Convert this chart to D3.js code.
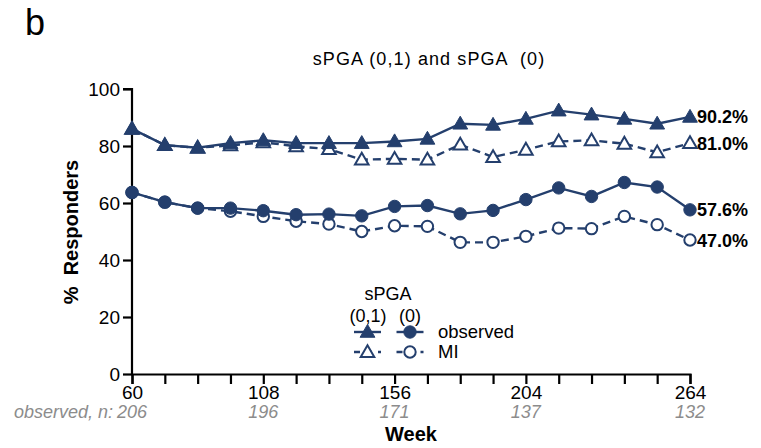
<!DOCTYPE html>
<html lang="en">
<head>
  <meta charset="utf-8" />
  <title>sPGA responders</title>
  <script src="https://cdn.jsdelivr.net/npm/d3@7"></script>
  <style>
    body { margin: 0; background: #fff; }
    text { font-family: "Liberation Sans", Arial, sans-serif; }
  </style>
</head>
<body>
  <script>
    // weeks and the four series
    var weeks = [60, 72, 84, 96, 108, 120, 132, 144, 156, 168, 180, 192, 204, 216, 228, 240, 252, 264];
    var obs01 = [86.0, 80.3, 79.4, 81.0, 82.0, 81.0, 81.0, 81.0, 81.6, 82.5, 87.8, 87.4, 89.5, 92.4, 91.0, 89.5, 87.8, 90.2];
    var mi01  = [86.0, 80.3, 79.4, 80.2, 81.3, 79.9, 78.9, 75.2, 75.5, 75.2, 80.5, 76.1, 78.7, 81.6, 82.0, 80.8, 77.8, 81.0];
    var obs0  = [63.7, 60.3, 58.2, 58.2, 57.3, 55.9, 56.1, 55.5, 58.8, 59.1, 56.2, 57.4, 61.2, 65.3, 62.3, 67.2, 65.6, 57.6];
    var mi0   = [63.7, 60.3, 58.2, 57.1, 55.3, 53.6, 52.6, 50.0, 52.0, 51.8, 46.2, 46.2, 48.3, 51.2, 51.0, 55.3, 52.4, 47.0];
    var endLabels = ["90.2%", "81.0%", "57.6%", "47.0%"];
    var labelWeeks = [60, 108, 156, 204, 264];
    var nObserved = [206, 196, 171, 137, 132];
    var yTicks = [0, 20, 40, 60, 80, 100];

    var navy = "#243f6d";
    var width = 761, height = 448;

    var svg = d3.select("body").append("svg")
      .attr("width", width).attr("height", height);

    var x = d3.scaleLinear().domain([60, 264]).range([132, 690]);
    var y = d3.scaleLinear().domain([0, 100]).range([374, 89]);

    // panel letter and title
    svg.append("text").attr("x", 25).attr("y", 35)
      .style("font-size", "36px").text("b");
    svg.append("text").attr("x", 429).attr("y", 65)
      .attr("text-anchor", "middle").style("font-size", "18px")
      .style("letter-spacing", "1.1px")
      .attr("xml:space", "preserve")
      .text("sPGA (0,1) and sPGA  (0)");

    // axes
    var yAxis = svg.append("g").attr("transform", "translate(132,0)")
      .call(d3.axisLeft(y).tickValues(yTicks).tickSize(9).tickPadding(3));
    var xAxis = svg.append("g").attr("transform", "translate(0,374)")
      .call(d3.axisBottom(x).tickValues(d3.range(60, 265, 12)).tickSize(10)
        .tickFormat(function(d) { return labelWeeks.indexOf(d) >= 0 ? d : ""; }).tickPadding(2));
    [yAxis, xAxis].forEach(function(a) {
      a.select(".domain").attr("stroke", "#000").attr("stroke-width", 2.2);
      a.selectAll(".tick line").attr("stroke", "#000").attr("stroke-width", 2.2);
      a.selectAll(".tick text").attr("fill", "#000")
        .style("font-size", "19px").style("font-family", "'Liberation Sans', Arial, sans-serif");
    });
    yAxis.select(".domain").attr("d", "M0,374V89H-9");

    // n observed under the x labels
    svg.selectAll(".nlab").data(labelWeeks).enter().append("text")
      .attr("class", "nlab")
      .attr("x", function(d) { return x(d); }).attr("y", 418)
      .attr("text-anchor", "middle").attr("fill", "#8c8c8c")
      .style("font-size", "18px").style("font-style", "italic")
      .text(function(d, i) { return nObserved[i]; });
    svg.append("text").attr("x", 113).attr("y", 418)
      .attr("text-anchor", "end").attr("fill", "#8c8c8c")
      .style("font-size", "18px").style("font-style", "italic")
      .text("observed, n:");

    svg.append("text").attr("x", 411).attr("y", 441)
      .attr("text-anchor", "middle").style("font-size", "20px").style("font-weight", "bold")
      .text("Week");
    svg.append("text").attr("transform", "translate(78,232) rotate(-90)")
      .attr("text-anchor", "middle").style("font-size", "20px").style("font-weight", "bold")
      .attr("xml:space", "preserve")
      .text("%  Responders");

    var tri = d3.symbol().type(d3.symbolTriangle).size(95);
    var triOpen = d3.symbol().type(d3.symbolTriangle).size(80);

    var series = [
      { vals: mi01, dash: "8,5", shape: "tri", open: true },
      { vals: mi0, dash: "8,5", shape: "circ", open: true },
      { vals: obs01, dash: null, shape: "tri", open: false },
      { vals: obs0, dash: null, shape: "circ", open: false }
    ];

    var line = d3.line()
      .x(function(d, i) { return x(weeks[i]); })
      .y(function(d) { return y(d); });

    function drawMarker(g, shape, open, cx, cy) {
      if (shape === "tri") {
        g.append("path").attr("d", open ? triOpen() : tri())
          .attr("transform", "translate(" + cx + "," + (cy + 1) + ")")
          .attr("fill", open ? "#fff" : navy).attr("stroke", navy)
          .attr("stroke-width", open ? 2 : 1);
      } else {
        g.append("circle").attr("cx", cx).attr("cy", cy)
          .attr("r", open ? 5.7 : 6.2)
          .attr("fill", open ? "#fff" : navy).attr("stroke", navy)
          .attr("stroke-width", open ? 2 : 1);
      }
    }

    series.forEach(function(s) {
      var g = svg.append("g");
      g.append("path").datum(s.vals).attr("d", line)
        .attr("fill", "none").attr("stroke", navy).attr("stroke-width", 2.4)
        .attr("stroke-dasharray", s.dash);
      s.vals.forEach(function(v, i) {
        drawMarker(g, s.shape, s.open, x(weeks[i]), y(v));
      });
    });

    // end value labels
    [obs01, mi01, obs0, mi0].forEach(function(vals, i) {
      svg.append("text").attr("x", x(264) + 7).attr("y", y(vals[vals.length - 1]) + 6.5)
        .style("font-size", "18px").style("font-weight", "bold")
        .text(endLabels[i]);
    });

    // legend
    var lg = svg.append("g");
    lg.append("text").attr("x", 388).attr("y", 300).attr("text-anchor", "middle")
      .style("font-size", "18px").text("sPGA");
    lg.append("text").attr("x", 368).attr("y", 322).attr("text-anchor", "middle")
      .style("font-size", "18px").text("(0,1)");
    lg.append("text").attr("x", 410).attr("y", 322).attr("text-anchor", "middle")
      .style("font-size", "18px").text("(0)");
    [["observed", null, false, 332], ["MI", "6,6", true, 352]].forEach(function(r) {
      [[367.5, "tri"], [410, "circ"]].forEach(function(m) {
        lg.append("line").attr("x1", m[0] - 13.5).attr("x2", m[0] + 13.5)
          .attr("y1", r[3]).attr("y2", r[3])
          .attr("stroke", navy).attr("stroke-width", 2.4).attr("stroke-dasharray", r[1]);
        drawMarker(lg, m[1], r[2], m[0], r[3]);
      });
      lg.append("text").attr("x", 438).attr("y", r[3] + 6)
        .style("font-size", "18.5px").text(r[0]);
    });
  </script>
</body>
</html>
